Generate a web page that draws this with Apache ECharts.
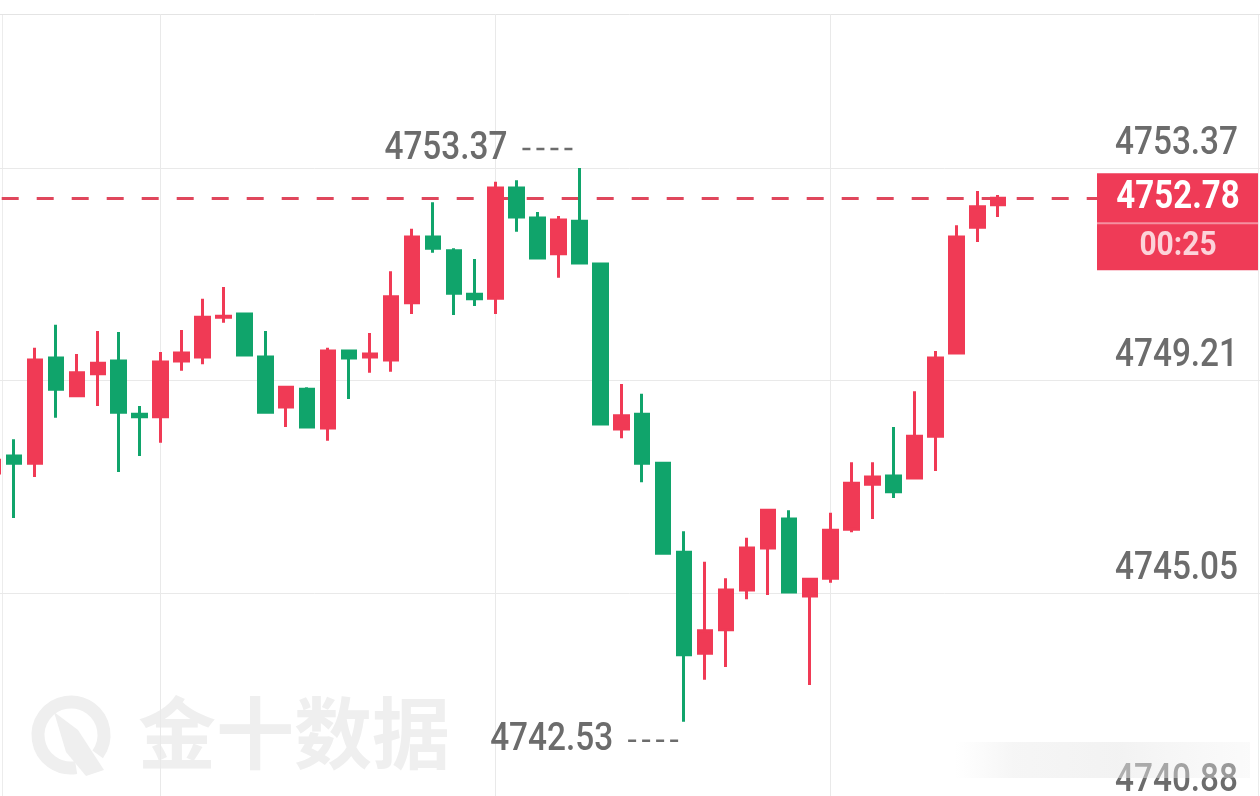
<!DOCTYPE html>
<html><head><meta charset="utf-8">
<script src="https://cdn.jsdelivr.net/npm/echarts@6/dist/echarts.min.js"></script>
<style>html,body{margin:0;padding:0;background:#fff}#c{width:1260px;height:796px}</style>
</head><body><div id="c"></div>
<script>
// ---- data ----
const opens  = [4747.40,4747.73,4747.59,4749.65,4748.91,4749.34,4749.59,4748.55,4748.50,4749.59,
                4749.67,4750.45,4750.51,4749.67,4748.69,4749.04,4748.28,4749.79,4749.67,4749.61,
                4750.73,4752.02,4751.75,4750.90,4750.82,4752.98,4752.39,4751.69,4752.33,4751.49,
                4748.26,4748.55,4747.59,4745.85,4743.87,4744.33,4745.11,4745.93,4746.50,4744.99,
                4745.34,4746.30,4747.18,4747.34,4747.30,4748.12,4749.75,4752.21,4752.65];
const closes = [4747.65,4747.59,4749.61,4749.04,4749.36,4749.55,4748.59,4748.50,4749.57,4749.75,
                4750.45,4750.47,4749.71,4748.59,4749.08,4748.30,4749.79,4749.65,4749.73,4750.85,
                4752.02,4751.80,4750.92,4750.81,4752.98,4752.41,4751.61,4752.35,4751.51,4748.36,
                4748.52,4747.59,4745.83,4743.84,4744.31,4745.11,4745.93,4746.67,4745.07,4745.32,
                4746.28,4747.20,4747.32,4747.03,4748.12,4749.65,4752.02,4752.61,4752.78];
const lows   = [4747.35,4746.52,4747.32,4748.48,4748.89,4748.71,4747.42,4747.73,4747.99,4749.40,
                4749.53,4750.34,4749.71,4748.59,4748.30,4748.30,4748.03,4748.85,4749.36,4749.38,
                4750.51,4751.71,4750.49,4750.67,4750.51,4752.12,4751.61,4751.22,4751.51,4748.36,
                4748.08,4747.22,4745.83,4742.53,4743.35,4743.60,4744.93,4745.01,4745.07,4743.25,
                4745.25,4746.24,4746.50,4746.91,4747.30,4747.44,4749.75,4751.92,4752.41];
const highs  = [4747.70,4748.06,4749.85,4750.30,4749.73,4750.18,4750.16,4748.71,4749.77,4750.20,
                4750.81,4751.04,4750.51,4750.18,4749.08,4749.08,4749.85,4749.79,4750.14,4751.35,
                4752.18,4752.70,4751.80,4751.59,4753.10,4753.13,4752.51,4752.43,4753.37,4751.49,
                4749.14,4748.95,4747.59,4746.26,4745.66,4745.34,4746.13,4746.69,4746.67,4745.32,
                4746.62,4747.61,4747.61,4748.30,4749.00,4749.79,4752.25,4752.92,4752.84];
const tickLabels = ['4753.37','4749.21','4745.05','4740.88'];
const tickValues = [4753.37, 4749.21, 4745.05, 4740.89];
const vGridSlots = [8, 24, 40];
const countdown = '00:25';
const watermark = '金十数据';
const SLOTS = 61;
const categories = Array.from({length: SLOTS}, (_, i) => 'k' + i);

// ---- style ----
const UP = '#f03a55', DOWN = '#10a46b', GRID = '#e9e9e9', LABEL = '#6c6c6c';
const FONT = "Roboto, 'DejaVu Sans Condensed', sans-serif";

const chart = echarts.init(document.getElementById('c'), null, {renderer: 'canvas'});
const ohlc = opens.map((o, i) => [o, closes[i], lows[i], highs[i]]);
const last = closes[closes.length - 1];

const hLines = tickValues.map(v => ({yAxis: v, lineStyle: {color: GRID, width: 1, type: 'solid'}}));
const vLines = vGridSlots.map(i => ({xAxis: categories[i], lineStyle: {color: GRID, width: 1, type: 'solid'}}));
const priceLine = {yAxis: last, lineStyle: {color: '#e0475c', width: 3, type: [17, 18], dashOffset: 15.9}};

chart.setOption({
  animation: false,
  backgroundColor: '#ffffff',
  grid: {left: -17.4, right: 0, top: 14, bottom: 0, outerBoundsMode: 'none', containLabel: false},
  xAxis: {type: 'category', data: categories, position: 'top', boundaryGap: true,
    axisLine: {show: true, lineStyle: {color: '#e4e4e4', width: 1}},
    axisTick: {show: false}, axisLabel: {show: false}, splitLine: {show: false}},
  yAxis: {type: 'value', min: 4741.076, max: 4756.385, show: false, splitLine: {show: false}},
  series: [
    {type: 'line', data: [], z: 1, silent: true,
     markLine: {z: 1, silent: true, symbol: ['none', 'none'], animation: false, label: {show: false},
       emphasis: {disabled: true}, data: [...hLines, ...vLines, priceLine]}},
    {type: 'candlestick', z: 3, data: ohlc, barWidth: 14, silent: true,
     itemStyle: {color: UP, color0: DOWN, borderColor: UP, borderColor0: DOWN, borderWidth: 3}}
  ]
});

// ---- text overlays placed through the chart's own scales ----
function narrowText(x, y, text, size, color, weight, sx, align) {
  return {type: 'text', x: x, y: y, scaleX: sx, z: 40, silent: true,
    style: {x: 0, y: 0, text: text, fill: color, font: weight + ' ' + size + 'px ' + FONT,
            align: align || 'right', verticalAlign: 'middle'}};
}
const g = [];
// borders
g.push({type: 'line', shape: {x1: 2.5, y1: 14, x2: 2.5, y2: 796}, style: {stroke: '#ececec', lineWidth: 1}, z: 0, silent: true});
g.push({type: 'line', shape: {x1: 1258.5, y1: 14, x2: 1258.5, y2: 796}, style: {stroke: '#ececec', lineWidth: 1}, z: 0, silent: true});
// axis tick labels (above their grid lines, right side)
tickValues.forEach((v, i) => {
  const y = chart.convertToPixel({yAxisIndex: 0}, v);
  g.push(narrowText(1238, y - 24, tickLabels[i], 39, LABEL, '500', 0.855));
});
// max / min markers
let iMax = 0, iMin = 0;
highs.forEach((h, i) => { if (h > highs[iMax]) iMax = i; });
lows.forEach((l, i) => { if (l < lows[iMin]) iMin = i; });
const pMax = chart.convertToPixel({gridIndex: 0}, [categories[iMax], highs[iMax]]);
const pMin = chart.convertToPixel({gridIndex: 0}, [categories[iMin], lows[iMin]]);
// [point, value, vertical offset, gap to candle, dash length]
[[pMax, highs[iMax], -19, 7, 50], [pMin, lows[iMin], 19, 0, 56]].forEach(([p, val, dy, gap, dl]) => {
  const cy = p[1] + dy;
  g.push(narrowText(p[0] - gap - dl - 15, cy, val.toFixed(2), 39, LABEL, '500', 0.855));
  g.push({type: 'line', z: 40, silent: true,
    shape: {x1: p[0] - gap - dl, y1: cy, x2: p[0] - gap, y2: cy},
    style: {stroke: LABEL, lineWidth: 2.5, lineDash: [8, 6]}});
});
// watermark logo + text
g.push({type: 'arc', shape: {cx: 71, cy: 735, r: 33, startAngle: Math.PI * 0.45, endAngle: Math.PI * 2.2},
  style: {stroke: '#efefef', lineWidth: 13, fill: null}, z: 0, silent: true});
g.push({type: 'polygon', shape: {points: [[54, 712], [78, 730], [104, 770], [86, 776], [66, 752]]},
  style: {fill: '#efefef'}, z: 0, silent: true});
g.push({type: 'text', z: 0, silent: true, style: {x: 138, y: 733, text: watermark, fill: '#efefef',
  font: 'bold 78px "Noto Sans CJK SC"', align: 'left', verticalAlign: 'middle'}});
// bottom-right smear
g.push({type: 'rect', shape: {x: 955, y: 742, width: 295, height: 36}, z: 50, silent: true,
  style: {fill: {type: 'linear', x: 0, y: 0, x2: 1, y2: 0, colorStops: [
    {offset: 0, color: 'rgba(238,238,238,0)'}, {offset: 0.2, color: 'rgba(236,236,236,0.5)'},
    {offset: 0.55, color: 'rgba(232,232,232,0.55)'}, {offset: 1, color: 'rgba(240,240,240,0.3)'}]}}});
// current price box
const py = chart.convertToPixel({yAxisIndex: 0}, last);
g.push({type: 'rect', shape: {x: 1097, y: py - 25, width: 161, height: 97}, style: {fill: '#ef3b57'}, z: 60, silent: true});
g.push({type: 'rect', shape: {x: 1097, y: py + 24, width: 161, height: 2}, style: {fill: '#f590a0'}, z: 61, silent: true});
const tp = narrowText(1178, py, last.toFixed(2), 38, '#ffffff', 'bold', 0.87, 'center'); tp.z = 62; g.push(tp);
const tc = narrowText(1178, py + 48, countdown, 34, '#fcd2d9', 'bold', 0.88, 'center'); tc.z = 62; g.push(tc);

chart.setOption({graphic: g});
</script></body></html>
